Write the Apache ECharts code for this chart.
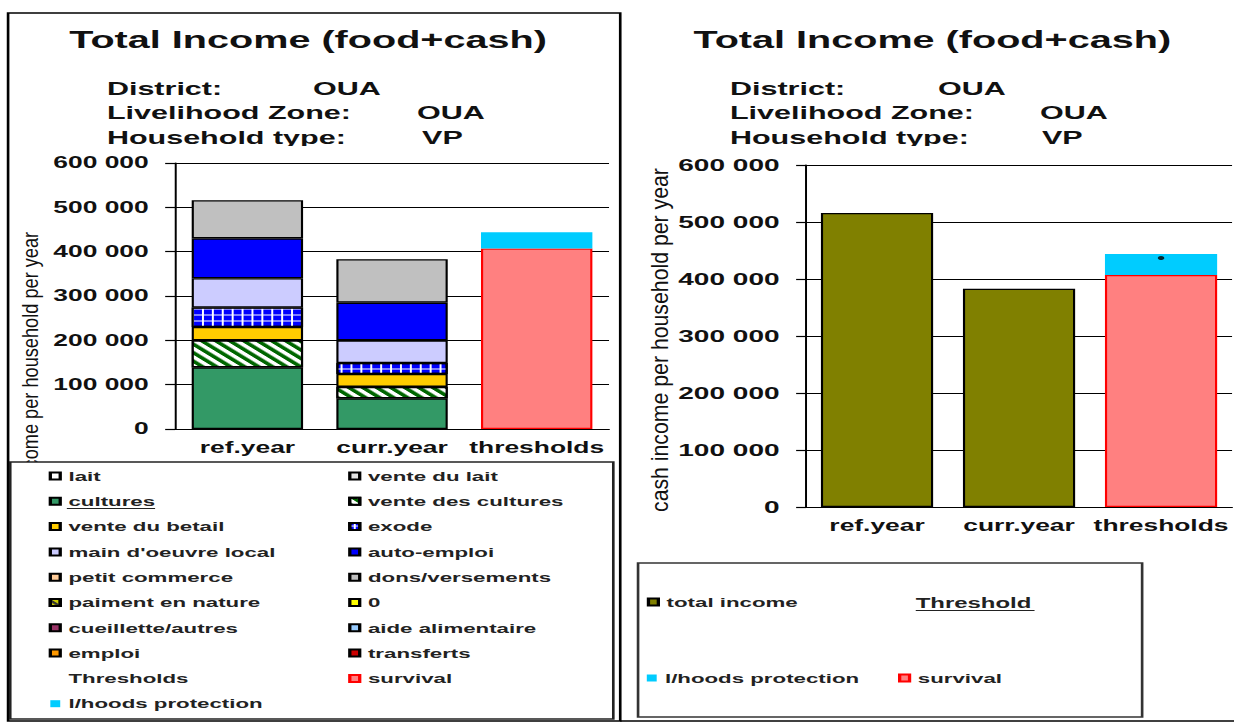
<!DOCTYPE html>
<html lang="en">
<head>
<meta charset="UTF-8">
<title>Total Income (food+cash)</title>
<script src="https://cdn.jsdelivr.net/npm/echarts@6/dist/echarts.min.js"></script>
<style>
    html, body { margin: 0; padding: 0; background: #fff; overflow: hidden; }
    /* the source export is stretched sideways: draw narrow, then widen */
    #charts { width: 748px; height: 725px; transform: scaleX(1.65); transform-origin: 0 0; }
</style>
</head>
<body>
<div id="charts"></div>
<script>
    // categories and values (FCFA per household per year)
    var categories = ['ref.year', 'curr.year', 'thresholds'];
    var yTicks = {min: 0, max: 600000, interval: 100000};

    // left chart, stacked sources of income
    var cultures = [139000, 69000, null];
    var venteCultures = [61000, 26000, null];
    var venteBetail = [30000, 29000, null];
    var exode = [44000, 25000, null];
    var mainOeuvre = [66000, 51000, null];
    var autoEmploi = [90000, 85000, null];
    var donsVersements = [86000, 98000, null];
    var emptyValues = [null, null, null];

    // thresholds
    var survival = [null, null, 407000];
    var protection = [null, null, 37000];

    // right chart
    var totalIncome = [516000, 383000, null];
    var markerPoint = [['thresholds', 437000]];

    var FONT = '"Liberation Sans", Arial, sans-serif';

    var chart = echarts.init(document.getElementById('charts'), null, {renderer: 'svg'});

    function thousands(v) {
        return String(v).replace(/\B(?=(\d{3})+(?!\d))/g, ' ');
    }

    function barSeries(name, data, color, grid, extra) {
        var s = {
            name: name,
            type: 'bar',
            stack: grid === 0 ? 'left' : 'right',
            xAxisIndex: grid,
            yAxisIndex: grid,
            data: data,
            barCategoryGap: grid === 0 ? '23%' : '21%',
            itemStyle: {color: color, borderColor: '#000', borderWidth: 1.3}
        };
        if (extra) {
            for (var k in extra) s.itemStyle[k] = extra[k];
        }
        return s;
    }

    // hatch patterns
    var stripes = {symbol: 'rect', symbolSize: 1, color: '#ffffff', dashArrayX: [1, 0], dashArrayY: [3, 3], rotation: Math.PI / 4};
    var grille = {symbol: 'path://M0,2h5v1h-5z M2,0h1v5h-1z', symbolSize: 1, symbolKeepAspect: false,
        color: '#ffffff', dashArrayX: [5.5, 0], dashArrayY: [6, 0]};
    var jaunes = {symbol: 'rect', symbolSize: 1, color: '#333333', dashArrayX: [1, 0], dashArrayY: [2, 3], rotation: Math.PI / 4};

    var series = [
        barSeries('lait', emptyValues, '#ffffff', 0),
        barSeries('vente du lait', emptyValues, '#e4e4e4', 0),
        barSeries('cultures', cultures, '#339966', 0),
        barSeries('vente des cultures', venteCultures, '#006600', 0, {decal: stripes}),
        barSeries('vente du betail', venteBetail, '#ffcc00', 0),
        barSeries('exode', exode, '#0000ff', 0, {decal: grille}),
        barSeries("main d'oeuvre local", mainOeuvre, '#ccccff', 0),
        barSeries('auto-emploi', autoEmploi, '#0000ff', 0),
        barSeries('petit commerce', emptyValues, '#ffcc99', 0),
        barSeries('dons/versements', donsVersements, '#c0c0c0', 0),
        barSeries('paiment en nature', emptyValues, '#cccc00', 0, {decal: jaunes}),
        barSeries('0', emptyValues, '#ffff00', 0),
        barSeries('cueillette/autres', emptyValues, '#993366', 0),
        barSeries('aide alimentaire', emptyValues, '#99ccff', 0),
        barSeries('emploi', emptyValues, '#ff9900', 0),
        barSeries('transferts', emptyValues, '#cc0000', 0),
        barSeries('Thresholds', emptyValues, 'rgba(0,0,0,0)', 0, {borderWidth: 0}),
        barSeries('survival', survival, '#ff8080', 0, {borderColor: '#ff0000'}),
        barSeries('l/hoods protection', protection, '#00ccff', 0, {borderWidth: 0}),

        barSeries('total income', totalIncome, '#808000', 1),
        barSeries('survival', survival, '#ff8080', 1, {borderColor: '#ff0000'}),
        barSeries('l/hoods protection', protection, '#00ccff', 1, {borderWidth: 0}),
        {
            type: 'scatter',
            xAxisIndex: 1,
            yAxisIndex: 1,
            data: markerPoint,
            symbol: 'circle',
            symbolSize: [4, 4],
            itemStyle: {color: '#000'},
            z: 5
        }
    ];

    function xAxis(grid, margin) {
        return {
            gridIndex: grid,
            type: 'category',
            data: categories,
            axisLine: {lineStyle: {color: '#000', width: 1.2}},
            axisTick: {length: 6, lineStyle: {color: '#000', width: 1.2}},
            axisLabel: {interval: 0, margin: margin, fontSize: 16, fontWeight: 'bold', color: '#111', fontFamily: FONT}
        };
    }

    function yAxis(grid, size, margin) {
        return {
            gridIndex: grid,
            type: 'value',
            min: yTicks.min,
            max: yTicks.max,
            interval: yTicks.interval,
            axisLine: {show: true, lineStyle: {color: '#000', width: 1.2}},
            axisTick: {show: true, length: 6, lineStyle: {color: '#000', width: 1.2}},
            splitLine: {lineStyle: {color: '#000', width: 1}},
            axisLabel: {margin: margin, fontSize: size, fontWeight: 'bold', color: '#111', fontFamily: FONT, formatter: thousands}
        };
    }

    var legendText = {fontFamily: FONT, fontWeight: 'bold', fontSize: 13.5, color: '#222', lineHeight: 14};

    function legend(names, left, top, orient, gap) {
        return {
            data: names,
            left: left,
            top: top,
            orient: orient,
            itemWidth: 6,
            itemHeight: 7,
            itemGap: gap,
            padding: 0,
            selectedMode: false,
            icon: 'rect',
            textStyle: legendText
        };
    }

    function header(x0, xVal, lines) {
        var els = [];
        var ys = [88, 112.5, 137];
        lines.forEach(function (l, i) {
            els.push({type: 'text', z: 2, style: {text: l[0], x: x0, y: ys[i], font: 'bold 18.5px ' + FONT, fill: '#111', textVerticalAlign: 'middle'}});
            els.push({type: 'text', z: 2, style: {text: l[1], x: xVal[i], y: ys[i], font: 'bold 18.5px ' + FONT, fill: '#111', textVerticalAlign: 'middle'}});
        });
        return els;
    }

    var infoLines = [['District:', 'OUA'], ['Livelihood Zone:', 'OUA'], ['Household type:', 'VP']];

    var graphics = [
        // panel frames
        {type: 'rect', z: 1, shape: {x: 4.9, y: 13, width: 371, height: 708}, style: {fill: 'none', stroke: '#000', lineWidth: 1.6}},
        {type: 'line', z: 1, shape: {x1: 375.9, y1: 721, x2: 748, y2: 721}, style: {stroke: '#000', lineWidth: 1.6}},
        // titles
        {type: 'text', z: 2, style: {text: 'Total Income (food+cash)', x: 186.7, y: 40, font: 'bold 24px ' + FONT, fill: '#111', textAlign: 'center', textVerticalAlign: 'middle'}},
        {type: 'text', z: 2, style: {text: 'Total Income (food+cash)', x: 565, y: 40, font: 'bold 24px ' + FONT, fill: '#111', textAlign: 'center', textVerticalAlign: 'middle'}},
        // axis titles
        {type: 'text', z: 2, x: 18.5, y: 522, rotation: Math.PI / 2, scaleX: 1.4,
            style: {text: 'total income per household per year', x: 0, y: 0, font: '13px ' + FONT, fill: '#111', textAlign: 'left', textVerticalAlign: 'middle'}},
        {type: 'text', z: 2, x: 400, y: 512, rotation: Math.PI / 2, scaleX: 1.52,
            style: {text: 'cash income per household per year', x: 0, y: 0, font: '14px ' + FONT, fill: '#111', textAlign: 'left', textVerticalAlign: 'middle'}},
        // the header text boxes clip their last line
        {type: 'rect', z: 3, shape: {x: 55, y: 146, width: 250, height: 9}, style: {fill: '#fff'}},
        {type: 'rect', z: 3, shape: {x: 432, y: 146, width: 250, height: 9}, style: {fill: '#fff'}},
        // legend boxes
        {type: 'rect', z: 3, shape: {x: 6.2, y: 462, width: 365.5, height: 257}, style: {fill: '#fff', stroke: '#222', lineWidth: 1.6}},
        {type: 'rect', z: 3, shape: {x: 386.7, y: 563, width: 305.5, height: 154}, style: {fill: '#fff', stroke: '#333', lineWidth: 1.6}},
        {type: 'line', z: 5, shape: {x1: 40.5, y1: 508.5, x2: 94, y2: 508.5}, style: {stroke: '#222', lineWidth: 1}},
        {type: 'text', z: 5, style: {text: 'Threshold', x: 555, y: 603, font: 'bold 14.5px ' + FONT, fill: '#222', textVerticalAlign: 'middle'}},
        {type: 'line', z: 5, shape: {x1: 555, y1: 610.5, x2: 627, y2: 610.5}, style: {stroke: '#222', lineWidth: 1.2}}
    ].concat(header(64.8, [189.7, 252.7, 255.8], infoLines))
     .concat(header(442.4, [568.5, 630.3, 631.5], infoLines));

    var option = {
        animation: false,
        textStyle: {fontFamily: FONT},
        grid: [
            {left: 106.1, right: 378.9, top: 163, bottom: 296},
            {left: 488.5, right: 1.3, top: 165, bottom: 218}
        ],
        xAxis: [xAxis(0, 10), xAxis(1, 10)],
        yAxis: [yAxis(0, 16, 16), yAxis(1, 17, 16)],
        legend: [
            legend(['lait', 'cultures', 'vente du betail', "main d'oeuvre local", 'petit commerce',
                'paiment en nature', 'cueillette/autres', 'emploi', 'Thresholds', 'l/hoods protection'], 29.5, 469, 'vertical', 11.3),
            legend(['vente du lait', 'vente des cultures', 'exode', 'auto-emploi', 'dons/versements',
                '0', 'aide alimentaire', 'transferts', 'survival'], 211, 469, 'vertical', 11.3),
            legend(['total income'], 392, 595, 'horizontal', 10),
            legend(['l/hoods protection', 'survival'], 392, 671, 'horizontal', 23.5)
        ],
        graphic: graphics,
        series: series
    };

    chart.setOption(option);
</script>
</body>
</html>
